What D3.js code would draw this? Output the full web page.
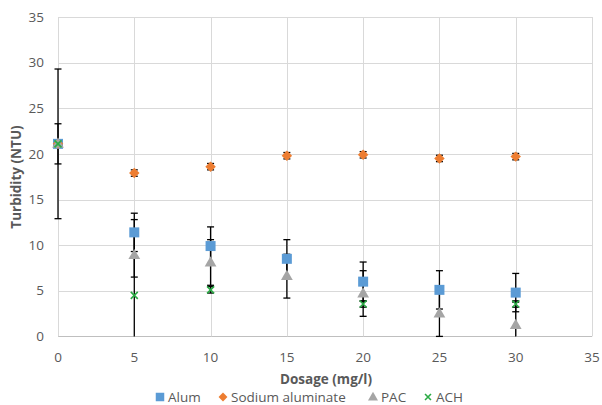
<!DOCTYPE html>
<html lang="en">
<head>
<meta charset="utf-8">
<style>
  body { margin: 0; background: white; }
  svg { background: white; display: block; }
  .grid line { stroke: #d9d9d9; stroke-width: 1; }
  .tick-label { font-family: "Open Sans", sans-serif; font-size: 13.5px; fill: #595959; }
  .axis-title { font-family: "Open Sans", sans-serif; font-size: 13.5px; font-weight: bold; fill: #595959; }
  .legend-text { font-family: "Open Sans", sans-serif; font-size: 13.5px; fill: #595959; }
  .err { stroke: #000; stroke-width: 1.3; fill: none; }
</style>
<script src="https://d3js.org/d3.v7.min.js"></script>
</head>
<body>
<script>
// values
var dosage = [0, 5, 10, 15, 20, 25, 30];
var alum = [21.1, 11.4, 9.9, 8.5, 6.0, 5.1, 4.8];
var alumErr = [2.2, 2.1, 2.1, 2.1, 2.15, 2.1, 2.1];
var sodium = [21.1, 17.9, 18.6, 19.8, 19.9, 19.5, 19.7];
var sodiumErr = [0.35, 0.35, 0.35, 0.35, 0.35, 0.35, 0.35];
var pac = [21.1, 8.9, 8.1, 6.6, 4.7, 2.5, 1.25];
var pacErr = [0, 2.4, 2.5, 2.4, 2.5, 2.5, 2.5];
var ach = [21.1, 4.5, 5.1, null, 3.55, null, 3.55];
var achErr = [8.2, 8.3, 0.35, null, 0.35, null, 0.35];
var xTicks = [0, 5, 10, 15, 20, 25, 30, 35];
var yTicks = [0, 5, 10, 15, 20, 25, 30, 35];

var width = 602, height = 405;

var series = [
  { name: "Alum", values: alum, err: alumErr, color: "#5b9bd5", shape: "square" },
  { name: "Sodium aluminate", values: sodium, err: sodiumErr, color: "#ed7d31", shape: "diamond" },
  { name: "PAC", values: pac, err: pacErr, color: "#a5a5a5", shape: "triangle" },
  { name: "ACH", values: ach, err: achErr, color: "#2bab45", shape: "cross" }
];

var x = d3.scaleLinear().domain([0, 35]).range([58, 592]);
var y = d3.scaleLinear().domain([0, 35]).range([336.4, 17]);

var svg = d3.select("body").append("svg")
  .attr("width", width)
  .attr("height", height);

// grid
var grid = svg.append("g").attr("class", "grid");
grid.selectAll(".h").data(yTicks).enter().append("line")
  .attr("x1", x(0)).attr("x2", x(35))
  .attr("y1", function(d) { return Math.round(y(d)) + 0.5; })
  .attr("y2", function(d) { return Math.round(y(d)) + 0.5; })
  .style("stroke", function(d) { return d === 0 ? "#bfbfbf" : null; });
grid.selectAll(".v").data(xTicks).enter().append("line")
  .attr("y1", y(35)).attr("y2", y(0))
  .attr("x1", function(d) { return Math.round(x(d)) + 0.5; })
  .attr("x2", function(d) { return Math.round(x(d)) + 0.5; });

// tick labels
svg.selectAll(".ylab").data(yTicks).enter().append("text")
  .attr("class", "tick-label")
  .attr("x", 44).attr("y", function(d) { return y(d); })
  .attr("dy", "0.35em")
  .attr("text-anchor", "end")
  .text(function(d) { return d; });
svg.selectAll(".xlab").data(xTicks).enter().append("text")
  .attr("class", "tick-label")
  .attr("x", function(d) { return x(d); }).attr("y", 357)
  .attr("dy", "0.35em")
  .attr("text-anchor", "middle")
  .text(function(d) { return d; });

// axis titles
svg.append("text").attr("class", "axis-title")
  .attr("x", 326).attr("y", 379).attr("dy", "0.35em")
  .attr("text-anchor", "middle")
  .text("Dosage (mg/l)");
svg.append("text").attr("class", "axis-title")
  .attr("transform", "translate(16,177) rotate(-90)")
  .attr("dy", "0.35em")
  .attr("text-anchor", "middle")
  .text("Turbidity (NTU)");

// error bars (clipped at zero without cap, like the original)
var errG = svg.append("g");
var capW = 3.5;
series.forEach(function(s) {
  s.values.forEach(function(v, i) {
    var e = s.err[i];
    if (v == null || !e) return;
    var cx = x(dosage[i]);
    var hi = v + e, lo = v - e;
    var lo2 = Math.max(lo, 0);
    errG.append("line").attr("class", "err")
      .attr("x1", cx).attr("x2", cx).attr("y1", y(hi)).attr("y2", y(lo2));
    errG.append("line").attr("class", "err")
      .attr("x1", cx - capW).attr("x2", cx + capW).attr("y1", y(hi)).attr("y2", y(hi));
    if (lo >= 0) {
      errG.append("line").attr("class", "err")
        .attr("x1", cx - capW).attr("x2", cx + capW).attr("y1", y(lo)).attr("y2", y(lo));
    }
  });
});

function drawMarker(g, shape, color, cx, cy, k) {
  k = k || 1;
  if (shape === "square") {
    g.append("rect").attr("x", cx - 5 * k).attr("y", cy - 5 * k)
      .attr("width", 10 * k).attr("height", 10 * k).attr("fill", color);
  } else if (shape === "diamond") {
    g.append("path").attr("d", d3.symbol().type(d3.symbolDiamond2).size(70 * k * k)())
      .attr("transform", "translate(" + cx + "," + cy + ")").attr("fill", color);
  } else if (shape === "triangle") {
    g.append("path").attr("d", d3.symbol().type(d3.symbolTriangle).size(60 * k * k)())
      .attr("transform", "translate(" + cx + "," + (cy + 0.5) + ")").attr("fill", color);
  } else {
    var r = 3.5 * k;
    g.append("path").attr("d", "M" + (cx - r) + "," + (cy - r) + "L" + (cx + r) + "," + (cy + r) +
      "M" + (cx - r) + "," + (cy + r) + "L" + (cx + r) + "," + (cy - r))
      .attr("stroke", color).attr("stroke-width", 1.6).attr("fill", "none");
  }
}

// markers
var markG = svg.append("g");
series.forEach(function(s) {
  s.values.forEach(function(v, i) {
    if (v == null) return;
    drawMarker(markG, s.shape, s.color, x(dosage[i]), y(v));
  });
});

// legend
var legend = svg.append("g");
var legendX = [156, 219, 369, 424];
series.forEach(function(s, i) {
  drawMarker(legend, s.shape, s.color, legendX[i] + 4, 397, 0.85);
  legend.append("text").attr("class", "legend-text")
    .attr("x", legendX[i] + 12).attr("y", 397).attr("dy", "0.35em")
    .text(s.name);
});
</script>
</body>
</html>
